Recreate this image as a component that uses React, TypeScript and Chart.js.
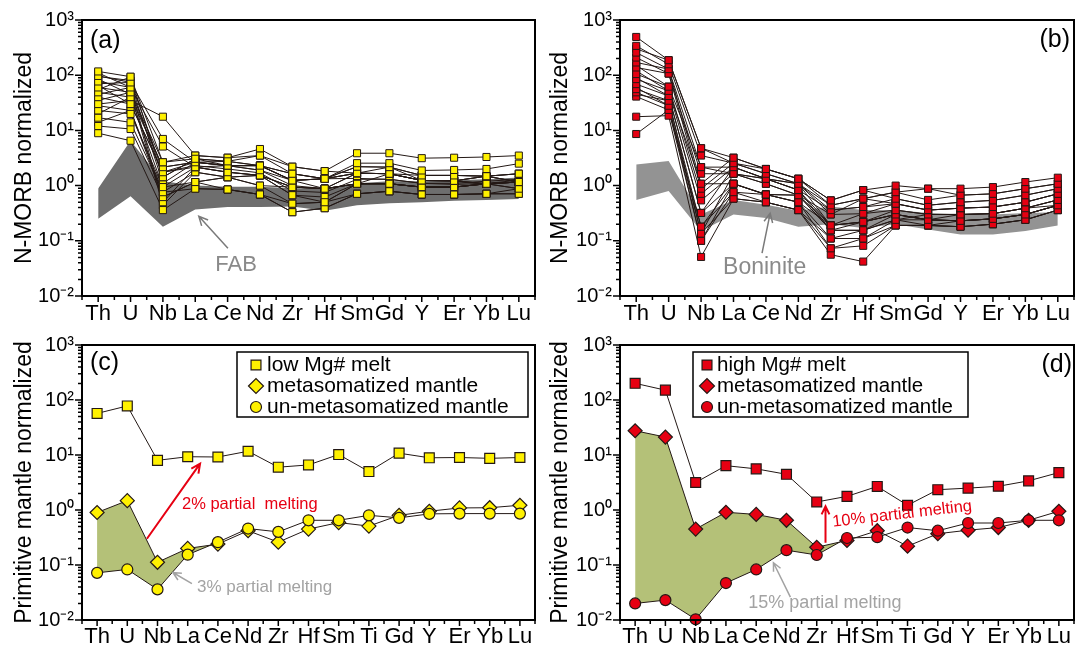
import React, { useEffect, useRef } from 'react';
import { Chart, registerables } from 'chart.js';

Chart.register(...registerables);

const FONT = '"Liberation Sans", Arial, Helvetica, sans-serif';

// ---------- categories and tick labels ----------
const ELEMENTS_NMORB = ['Th', 'U', 'Nb', 'La', 'Ce', 'Nd', 'Zr', 'Hf', 'Sm', 'Gd', 'Y', 'Er', 'Yb', 'Lu'];
const ELEMENTS_PM = ['Th', 'U', 'Nb', 'La', 'Ce', 'Nd', 'Zr', 'Hf', 'Sm', 'Ti', 'Gd', 'Y', 'Er', 'Yb', 'Lu'];
const Y_TICK_VALUES = [0.01, 0.1, 1, 10, 100, 1000];
const Y_TICK_LABELS = ['10⁻²', '10⁻¹', '10⁰', '10¹', '10²', '10³'];

// ---------- (a) low Mg# melts, N-MORB normalized ----------
const LOW_MG_SAMPLES: number[][] = [
  [117, 94, 2.65, 3.06, 2.75, 3.5, 1.64, 1.33, 2.55, 2.55, 1.88, 1.92, 2.0, 2.5],
  [97, 74, 7.0, 2.65, 2.3, 2.3, 1.24, 1.33, 2.2, 2.16, 1.53, 1.53, 1.48, 1.64],
  [77, 60, 5.1, 2.16, 2.3, 1.9, 1.24, 0.88, 1.68, 1.64, 1.24, 1.22, 1.48, 1.16],
  [60, 49, 2.65, 3.5, 3.2, 3.5, 2.2, 1.83, 1.68, 1.64, 1.24, 1.22, 1.08, 1.16],
  [49, 40, 2.16, 2.65, 2.75, 2.3, 1.64, 1.33, 1.68, 1.64, 1.53, 1.53, 1.48, 1.64],
  [40, 30, 1.75, 2.16, 1.75, 1.53, 0.94, 0.88, 1.08, 1.08, 0.94, 0.94, 1.08, 1.16],
  [30, 35, 17.7, 3.5, 3.2, 4.6, 2.2, 1.83, 3.86, 3.86, 3.14, 3.2, 3.3, 3.5],
  [23, 19.9, 0.94, 1.16, 0.85, 0.69, 0.47, 0.5, 0.71, 0.79, 0.69, 0.69, 0.71, 0.88],
  [17, 14, 0.76, 0.88, 0.85, 0.69, 0.33, 0.39, 0.71, 0.79, 0.69, 0.69, 0.71, 0.71],
  [12, 10.6, 0.62, 1.16, 1.42, 1.53, 0.94, 0.88, 1.08, 1.08, 0.94, 0.94, 1.08, 0.88],
  [8.9, 6.5, 0.36, 0.88, 0.85, 0.69, 0.33, 0.39, 0.71, 0.79, 0.69, 0.69, 0.71, 0.71],
  [110, 60, 1.42, 3.06, 2.75, 2.3, 1.24, 1.33, 2.2, 2.16, 1.53, 1.53, 1.48, 1.64],
  [85, 45, 2.16, 2.65, 2.3, 1.9, 1.0, 0.88, 1.68, 1.64, 1.24, 1.22, 1.08, 1.16],
  [65, 30, 1.75, 2.65, 2.3, 2.3, 1.24, 1.33, 1.68, 1.64, 1.24, 1.22, 1.48, 1.16],
  [55, 93, 1.42, 3.06, 2.3, 2.3, 1.64, 1.33, 1.68, 2.16, 1.24, 1.22, 1.48, 1.16],
  [45, 60, 0.5, 2.16, 1.75, 1.53, 0.67, 0.62, 1.08, 1.08, 0.94, 0.94, 1.08, 1.16],
  [35, 49, 0.44, 1.75, 1.42, 1.0, 0.94, 0.88, 1.08, 1.08, 0.94, 0.94, 1.08, 1.16],
  [28, 23, 0.62, 1.16, 1.42, 1.53, 0.67, 0.5, 1.08, 1.08, 0.94, 0.94, 1.08, 0.88],
  [20, 40, 0.94, 2.16, 1.75, 1.53, 0.94, 0.88, 1.08, 1.64, 1.24, 1.22, 1.08, 1.16],
  [14, 23, 0.76, 1.75, 1.42, 1.0, 0.47, 0.5, 1.08, 1.08, 0.94, 0.94, 1.08, 1.16],
  [70, 74, 1.1, 2.65, 2.3, 2.3, 1.24, 1.33, 1.35, 1.3, 1.1, 1.1, 1.2, 1.3],
  [95, 80, 1.75, 2.3, 2.0, 1.7, 0.8, 0.75, 1.3, 1.3, 1.1, 1.05, 1.1, 1.25],
];
const FAB_UPPER = [0.89, 6.5, 1.2, 1.0, 0.95, 0.95, 0.9, 0.9, 1.1, 1.2, 1.2, 1.25, 1.3, 1.4];
const FAB_LOWER = [0.25, 0.64, 0.18, 0.37, 0.41, 0.41, 0.42, 0.35, 0.44, 0.48, 0.5, 0.53, 0.55, 0.57];

// ---------- (b) high Mg# melts, N-MORB normalized ----------
const HIGH_MG_SAMPLES: number[][] = [
  [493, 187, 4.75, 3.2, 2.0, 1.33, 0.54, 0.83, 1.0, 0.88, 0.88, 0.94, 1.16, 1.39],
  [340, 158, 3.5, 2.55, 1.64, 1.08, 0.44, 0.58, 0.76, 0.55, 0.67, 0.71, 0.88, 1.08],
  [257, 129, 2.16, 2.16, 1.33, 0.83, 0.36, 0.41, 0.58, 0.44, 0.5, 0.54, 0.67, 0.88],
  [209, 107, 1.64, 1.64, 1.33, 1.08, 0.3, 0.58, 0.47, 0.36, 0.39, 0.41, 0.5, 0.71],
  [170, 129, 1.08, 3.2, 2.0, 1.33, 0.54, 0.83, 0.58, 0.44, 0.5, 0.54, 0.67, 0.88],
  [138, 107, 0.88, 2.55, 1.64, 1.08, 0.19, 0.31, 0.47, 0.36, 0.39, 0.41, 0.5, 0.71],
  [105, 62, 0.71, 2.16, 1.33, 0.83, 0.155, 0.22, 0.36, 0.3, 0.3, 0.31, 0.39, 0.55],
  [85, 52, 0.54, 1.64, 1.08, 0.67, 0.155, 0.155, 0.3, 0.24, 0.23, 0.25, 0.3, 0.44],
  [69, 42, 0.32, 1.08, 0.69, 0.5, 0.11, 0.11, 0.24, 0.19, 0.18, 0.2, 0.24, 0.36],
  [56, 34.5, 0.18, 0.76, 0.5, 0.36, 0.073, 0.081, 0.19, 0.19, 0.18, 0.2, 0.24, 0.36],
  [49, 28, 0.135, 0.58, 0.5, 0.36, 0.056, 0.042, 0.19, 0.19, 0.23, 0.25, 0.3, 0.44],
  [41, 23.5, 0.1, 1.08, 0.69, 0.5, 0.19, 0.22, 0.3, 0.24, 0.3, 0.31, 0.39, 0.55],
  [17.7, 18.5, 0.051, 0.58, 0.5, 0.36, 0.11, 0.155, 0.24, 0.3, 0.3, 0.31, 0.39, 0.44],
  [8.6, 23.5, 0.18, 1.08, 0.69, 0.67, 0.19, 0.22, 0.3, 0.24, 0.23, 0.25, 0.3, 0.44],
  [300, 187, 4.75, 2.55, 2.0, 1.33, 0.44, 0.58, 0.76, 0.88, 0.67, 0.71, 0.88, 1.08],
  [150, 62, 2.16, 1.64, 1.33, 1.08, 0.36, 0.41, 0.47, 0.36, 0.39, 0.41, 0.5, 0.71],
  [120, 52, 1.08, 1.08, 0.69, 0.67, 0.3, 0.31, 0.36, 0.3, 0.3, 0.31, 0.39, 0.55],
  [90, 42, 0.32, 2.16, 1.33, 0.83, 0.19, 0.22, 0.3, 0.24, 0.23, 0.25, 0.3, 0.44],
  [45, 34.5, 0.135, 1.64, 1.08, 0.67, 0.155, 0.155, 0.24, 0.24, 0.23, 0.25, 0.3, 0.44],
  [60, 28, 0.1, 0.76, 0.69, 0.5, 0.073, 0.11, 0.19, 0.19, 0.18, 0.2, 0.24, 0.36],
];
const BONINITE_UPPER = [2.4, 2.8, 0.3, 0.55, 0.45, 0.35, 0.42, 0.36, 0.36, 0.32, 0.3, 0.3, 0.32, 0.33];
const BONINITE_LOWER = [0.55, 0.8, 0.15, 0.3, 0.26, 0.18, 0.2, 0.17, 0.2, 0.16, 0.13, 0.13, 0.15, 0.19];

// ---------- (c) primitive-mantle normalized, low Mg# ----------
const LOW_MG_MELT = [57, 78, 8.0, 9.3, 9.2, 11.7, 6.0, 6.6, 10.2, 5.0, 10.8, 8.9, 9.0, 8.7, 9.0];
const LOW_MG_META_MANTLE = [0.9, 1.48, 0.112, 0.2, 0.24, 0.42, 0.26, 0.45, 0.59, 0.51, 0.8, 0.95, 1.09, 1.1, 1.22];
const LOW_MG_UNMETA_MANTLE = [0.072, 0.083, 0.036, 0.154, 0.26, 0.46, 0.4, 0.65, 0.65, 0.8, 0.72, 0.85, 0.86, 0.86, 0.86];

// ---------- (d) primitive-mantle normalized, high Mg# ----------
const HIGH_MG_MELT = [201, 151, 3.16, 6.4, 5.6, 4.46, 1.4, 1.77, 2.68, 1.22, 2.34, 2.5, 2.7, 3.39, 4.79];
const HIGH_MG_META_MANTLE = [27.6, 21.2, 0.45, 0.91, 0.83, 0.65, 0.21, 0.28, 0.42, 0.22, 0.37, 0.43, 0.48, 0.65, 0.95];
const HIGH_MG_UNMETA_MANTLE = [0.02, 0.023, 0.0103, 0.047, 0.083, 0.186, 0.152, 0.31, 0.32, 0.48, 0.42, 0.58, 0.58, 0.65, 0.65];

// ---------- styles ----------
const LINE = '#231815';
const YELLOW = '#fff100';
const RED = '#e60012';
const GREEN = '#b4c178';
const FAB_GRAY = '#6e6e6e';
const BON_GRAY = '#939393';
const TEXT_GRAY = '#8a8a8a';
const LIGHT_GRAY = '#a3a3a3';

type Ann =
  | { kind: 'text'; x: number; y: number; text: string; color: string; size: number; align: CanvasTextAlign; rotate?: number }
  | { kind: 'arrow'; x1: number; y1: number; x2: number; y2: number; color: string; lw: number; head: number };

type LegendItem = { label: string; style: 'rect' | 'rectRot' | 'circle'; color: string };
type LegendSpec = { dx: number; dy: number; w: number; h: number; markerDx: number; textDx: number; rows: number[]; size: number; items: LegendItem[] };

type PanelCfg = {
  left: number; top: number; width: number; height: number;
  axisWidth: number; axisHeight: number; padTop: number; padRight: number;
  titlePad: number; title: string; labels: string[]; xPad: number;
  datasets: any[];
  tag: string; tagSide: 'left' | 'right'; tagDx: number; tagDy: number;
  anns: Ann[];
  legend?: LegendSpec;
};

function bandDatasets(upper: number[], lower: number[], color: string) {
  return [
    { data: lower, borderWidth: 0, borderColor: 'rgba(0,0,0,0)', pointRadius: 0, fill: false, order: 9 },
    { data: upper, borderWidth: 0, borderColor: 'rgba(0,0,0,0)', pointRadius: 0, fill: '-1', backgroundColor: color, order: 9 },
  ];
}

function partialFill(upper: number[], lower: number[], last: number, color: string) {
  const u = upper.map((v, i) => (i <= last ? v : null));
  const l = lower.map((v, i) => (i <= last ? v : null));
  return bandDatasets(u as number[], l as number[], color);
}

function sampleDatasets(samples: number[][], color: string) {
  const lines = samples.map((s) => ({ data: s, borderColor: LINE, borderWidth: 1, pointRadius: 0, fill: false, order: 5 }));
  const marks = samples.map((s) => ({
    data: s, showLine: false, pointStyle: 'rect', pointRadius: 5, pointBackgroundColor: color,
    pointBorderColor: LINE, pointBorderWidth: 1, order: 1, clip: false,
  }));
  return [...lines, ...marks];
}

function seriesDataset(data: number[], style: string, radius: number, color: string) {
  return {
    data, borderColor: LINE, borderWidth: 1, pointStyle: style, pointRadius: radius,
    pointBackgroundColor: color, pointBorderColor: LINE, pointBorderWidth: 1.2, fill: false, order: 1, clip: false,
  };
}

function drawMarker(ctx: CanvasRenderingContext2D, style: string, x: number, y: number, r: number, color: string) {
  ctx.beginPath();
  if (style === 'rect') {
    const s = r * Math.SQRT1_2;
    ctx.rect(x - s, y - s, 2 * s, 2 * s);
  } else if (style === 'rectRot') {
    ctx.moveTo(x - r, y); ctx.lineTo(x, y - r); ctx.lineTo(x + r, y); ctx.lineTo(x, y + r); ctx.closePath();
  } else {
    ctx.arc(x, y, r, 0, Math.PI * 2);
  }
  ctx.fillStyle = color; ctx.fill();
  ctx.lineWidth = 1.2; ctx.strokeStyle = LINE; ctx.stroke();
}

function makeDecor(cfg: PanelCfg) {
  return {
    id: 'decor',
    afterDraw(chart: any) {
      const { ctx, chartArea: ca, scales } = chart;
      const xs = scales.x, ys = scales.y;
      ctx.save();
      // frame
      ctx.strokeStyle = '#000'; ctx.lineWidth = 2;
      ctx.strokeRect(ca.left, ca.top, ca.right - ca.left, ca.bottom - ca.top);
      // ticks
      ctx.lineWidth = 1.5;
      ctx.beginPath();
      for (let e = -2; e <= 3; e++) {
        const yp = ys.getPixelForValue(Math.pow(10, e));
        ctx.moveTo(ca.left, yp); ctx.lineTo(ca.left - 7, yp);
        if (e < 3) {
          for (let k = 2; k <= 9; k++) {
            const y2 = ys.getPixelForValue(k * Math.pow(10, e));
            ctx.moveTo(ca.left, y2); ctx.lineTo(ca.left - 4, y2);
          }
        }
      }
      const n = cfg.labels.length;
      for (let i = 0; i < n; i++) {
        const xp = xs.getPixelForValue(i);
        ctx.moveTo(xp, ca.bottom); ctx.lineTo(xp, ca.bottom + 6);
      }
      for (let i = 0; i <= n; i++) {
        const xp = xs.getPixelForValue(i - 0.5);
        ctx.moveTo(xp, ca.bottom); ctx.lineTo(xp, ca.bottom + 4);
      }
      ctx.stroke();

      // panel tag
      ctx.fillStyle = '#000';
      ctx.font = `25px ${FONT}`;
      ctx.textBaseline = 'middle';
      if (cfg.tagSide === 'left') {
        ctx.textAlign = 'left';
        ctx.fillText(cfg.tag, ca.left + cfg.tagDx, ca.top + cfg.tagDy);
      } else {
        ctx.textAlign = 'right';
        ctx.fillText(cfg.tag, ca.right - cfg.tagDx, ca.top + cfg.tagDy);
      }

      // annotations
      for (const a of cfg.anns) {
        if (a.kind === 'text') {
          const px = xs.getPixelForValue(a.x), py = ys.getPixelForValue(a.y);
          ctx.save();
          ctx.translate(px, py);
          if (a.rotate) ctx.rotate((a.rotate * Math.PI) / 180);
          ctx.fillStyle = a.color;
          ctx.font = `${a.size}px ${FONT}`;
          ctx.textAlign = a.align;
          ctx.textBaseline = 'middle';
          ctx.fillText(a.text, 0, 0);
          ctx.restore();
        } else {
          const x1 = xs.getPixelForValue(a.x1), y1 = ys.getPixelForValue(a.y1);
          const x2 = xs.getPixelForValue(a.x2), y2 = ys.getPixelForValue(a.y2);
          const ang = Math.atan2(y2 - y1, x2 - x1);
          ctx.strokeStyle = a.color; ctx.lineWidth = a.lw;
          ctx.beginPath();
          ctx.moveTo(x1, y1); ctx.lineTo(x2, y2);
          ctx.moveTo(x2 - a.head * Math.cos(ang - 0.45), y2 - a.head * Math.sin(ang - 0.45));
          ctx.lineTo(x2, y2);
          ctx.lineTo(x2 - a.head * Math.cos(ang + 0.45), y2 - a.head * Math.sin(ang + 0.45));
          ctx.stroke();
        }
      }

      // legend
      const lg = cfg.legend;
      if (lg) {
        const bx = ca.left + lg.dx, by = ca.top + lg.dy;
        ctx.strokeStyle = '#000'; ctx.lineWidth = 1.5;
        ctx.strokeRect(bx, by, lg.w, lg.h);
        lg.items.forEach((it, i) => {
          const cy = by + lg.rows[i];
          const r = it.style === 'rect' ? 7 : it.style === 'rectRot' ? 7.5 : 5.5;
          drawMarker(ctx, it.style, bx + lg.markerDx, cy, r, it.color);
          ctx.fillStyle = '#000';
          ctx.font = `${lg.size}px ${FONT}`;
          ctx.textAlign = 'left';
          ctx.textBaseline = 'middle';
          ctx.fillText(it.label, bx + lg.textDx, cy);
        });
      }
      ctx.restore();
    },
  };
}

function buildConfig(cfg: PanelCfg): any {
  return {
    type: 'line',
    data: { labels: cfg.labels, datasets: cfg.datasets },
    options: {
      responsive: false,
      animation: false,
      events: [],
      layout: { padding: { top: cfg.padTop, right: cfg.padRight, left: 0, bottom: 0 } },
      elements: { line: { tension: 0 } },
      plugins: { legend: { display: false }, tooltip: { enabled: false } },
      scales: {
        x: {
          type: 'category',
          offset: true,
          grid: { display: false, drawTicks: false },
          border: { display: false },
          ticks: { font: { size: 22, family: FONT }, color: '#000', padding: cfg.xPad, autoSkip: false, maxRotation: 0, minRotation: 0 },
          afterFit: (s: any) => { s.height = cfg.axisHeight; },
        },
        y: {
          type: 'logarithmic',
          min: 0.01,
          max: 1000,
          grid: { display: false, drawTicks: false },
          border: { display: false },
          afterBuildTicks: (s: any) => { s.ticks = Y_TICK_VALUES.map((v) => ({ value: v })); },
          ticks: {
            font: { size: 20, family: FONT }, color: '#000', padding: 8, autoSkip: false,
            callback: (v: number) => Y_TICK_LABELS[Math.round(Math.log10(v)) + 2],
          },
          title: { display: true, text: cfg.title, font: { size: 23, family: FONT }, color: '#000', padding: { top: cfg.titlePad, bottom: 0 } },
          afterFit: (s: any) => { s.width = cfg.axisWidth; },
        },
      },
    },
    plugins: [makeDecor(cfg)],
  };
}

const PANELS: PanelCfg[] = [
  {
    left: 0, top: 0, width: 544, height: 325, axisWidth: 82, axisHeight: 29, padTop: 19, padRight: 9,
    titlePad: 11, title: 'N-MORB normalized', labels: ELEMENTS_NMORB, xPad: 5,
    datasets: [...bandDatasets(FAB_UPPER, FAB_LOWER, FAB_GRAY), ...sampleDatasets(LOW_MG_SAMPLES, YELLOW)],
    tag: '(a)', tagSide: 'left', tagDx: 8, tagDy: 21,
    anns: [
      { kind: 'text', x: 4.26, y: 0.036, text: 'FAB', color: TEXT_GRAY, size: 22, align: 'center' },
      { kind: 'arrow', x1: 4.01, y1: 0.073, x2: 3.11, y2: 0.278, color: '#7a7a7a', lw: 1.5, head: 10 },
    ],
  },
  {
    left: 544, top: 0, width: 544, height: 325, axisWidth: 76, axisHeight: 29, padTop: 19, padRight: 14,
    titlePad: 3, title: 'N-MORB normalized', labels: ELEMENTS_NMORB, xPad: 5,
    datasets: [...bandDatasets(BONINITE_UPPER, BONINITE_LOWER, BON_GRAY), ...sampleDatasets(HIGH_MG_SAMPLES, RED)],
    tag: '(b)', tagSide: 'right', tagDx: 4, tagDy: 20,
    anns: [
      { kind: 'text', x: 3.96, y: 0.033, text: 'Boninite', color: TEXT_GRAY, size: 23, align: 'center' },
      { kind: 'arrow', x1: 3.88, y1: 0.0597, x2: 4.13, y2: 0.315, color: '#7a7a7a', lw: 1.5, head: 10 },
    ],
  },
  {
    left: 0, top: 325, width: 544, height: 325, axisWidth: 82, axisHeight: 30, padTop: 17, padRight: 9,
    titlePad: 11, title: 'Primitive mantle normalized', labels: ELEMENTS_PM, xPad: 3.5,
    datasets: [
      seriesDataset(LOW_MG_MELT, 'rect', 7, YELLOW),
      seriesDataset(LOW_MG_UNMETA_MANTLE, 'circle', 5.5, YELLOW),
      seriesDataset(LOW_MG_META_MANTLE, 'rectRot', 7, YELLOW),
      ...partialFill(LOW_MG_META_MANTLE, LOW_MG_UNMETA_MANTLE, 4, GREEN),
    ],
    tag: '(c)', tagSide: 'left', tagDx: 8, tagDy: 18,
    anns: [
      { kind: 'arrow', x1: 1.65, y1: 0.3, x2: 3.41, y2: 6.95, color: RED, lw: 2, head: 10 },
      { kind: 'text', x: 2.81, y: 1.27, text: '2% partial  melting', color: RED, size: 16.5, align: 'left' },
      { kind: 'arrow', x1: 3.14, y1: 0.046, x2: 2.51, y2: 0.073, color: LIGHT_GRAY, lw: 1.5, head: 9 },
      { kind: 'text', x: 3.31, y: 0.039, text: '3% partial melting', color: LIGHT_GRAY, size: 17, align: 'left' },
    ],
    legend: {
      dx: 155, dy: 7, w: 291, h: 65, markerDx: 19, textDx: 30, rows: [13, 34, 55], size: 21,
      items: [
        { label: 'low Mg# melt', style: 'rect', color: YELLOW },
        { label: 'metasomatized mantle', style: 'rectRot', color: YELLOW },
        { label: 'un-metasomatized mantle', style: 'circle', color: YELLOW },
      ],
    },
  },
  {
    left: 544, top: 325, width: 544, height: 325, axisWidth: 76, axisHeight: 30, padTop: 17, padRight: 14,
    titlePad: 3, title: 'Primitive mantle normalized', labels: ELEMENTS_PM, xPad: 3.5,
    datasets: [
      seriesDataset(HIGH_MG_MELT, 'rect', 7, RED),
      seriesDataset(HIGH_MG_UNMETA_MANTLE, 'circle', 5.5, RED),
      seriesDataset(HIGH_MG_META_MANTLE, 'rectRot', 7, RED),
      ...partialFill(HIGH_MG_META_MANTLE, HIGH_MG_UNMETA_MANTLE, 7, GREEN),
    ],
    tag: '(d)', tagSide: 'right', tagDx: 2, tagDy: 20,
    anns: [
      { kind: 'arrow', x1: 6.29, y1: 0.253, x2: 6.29, y2: 1.17, color: RED, lw: 2, head: 9 },
      { kind: 'text', x: 6.52, y: 0.6, text: '10% partial melting', color: RED, size: 16.5, align: 'left', rotate: -6.6 },
      { kind: 'arrow', x1: 5.13, y1: 0.026, x2: 4.57, y2: 0.11, color: LIGHT_GRAY, lw: 1.5, head: 9 },
      { kind: 'text', x: 3.74, y: 0.0202, text: '15% partial melting', color: LIGHT_GRAY, size: 18, align: 'left' },
    ],
    legend: {
      dx: 73, dy: 7, w: 275, h: 65, markerDx: 14, textDx: 24, rows: [13, 34, 55], size: 20.5,
      items: [
        { label: 'high Mg# melt', style: 'rect', color: RED },
        { label: 'metasomatized mantle', style: 'rectRot', color: RED },
        { label: 'un-metasomatized mantle', style: 'circle', color: RED },
      ],
    },
  },
];

function Panel({ cfg }: { cfg: PanelCfg }) {
  const ref = useRef<HTMLCanvasElement>(null);
  useEffect(() => {
    const chart = new Chart(ref.current as HTMLCanvasElement, buildConfig(cfg));
    return () => chart.destroy();
  }, [cfg]);
  return (
    <div style={{ position: 'absolute', left: cfg.left, top: cfg.top, width: cfg.width, height: cfg.height }}>
      <canvas ref={ref} width={cfg.width} height={cfg.height} style={{ width: cfg.width, height: cfg.height, display: 'block' }} />
    </div>
  );
}

export default function App() {
  return (
    <div style={{ position: 'absolute', left: 0, top: 0, width: 1088, height: 650, background: '#fff', overflow: 'hidden' }}>
      {PANELS.map((p) => (
        <Panel key={p.tag} cfg={p} />
      ))}
    </div>
  );
}
